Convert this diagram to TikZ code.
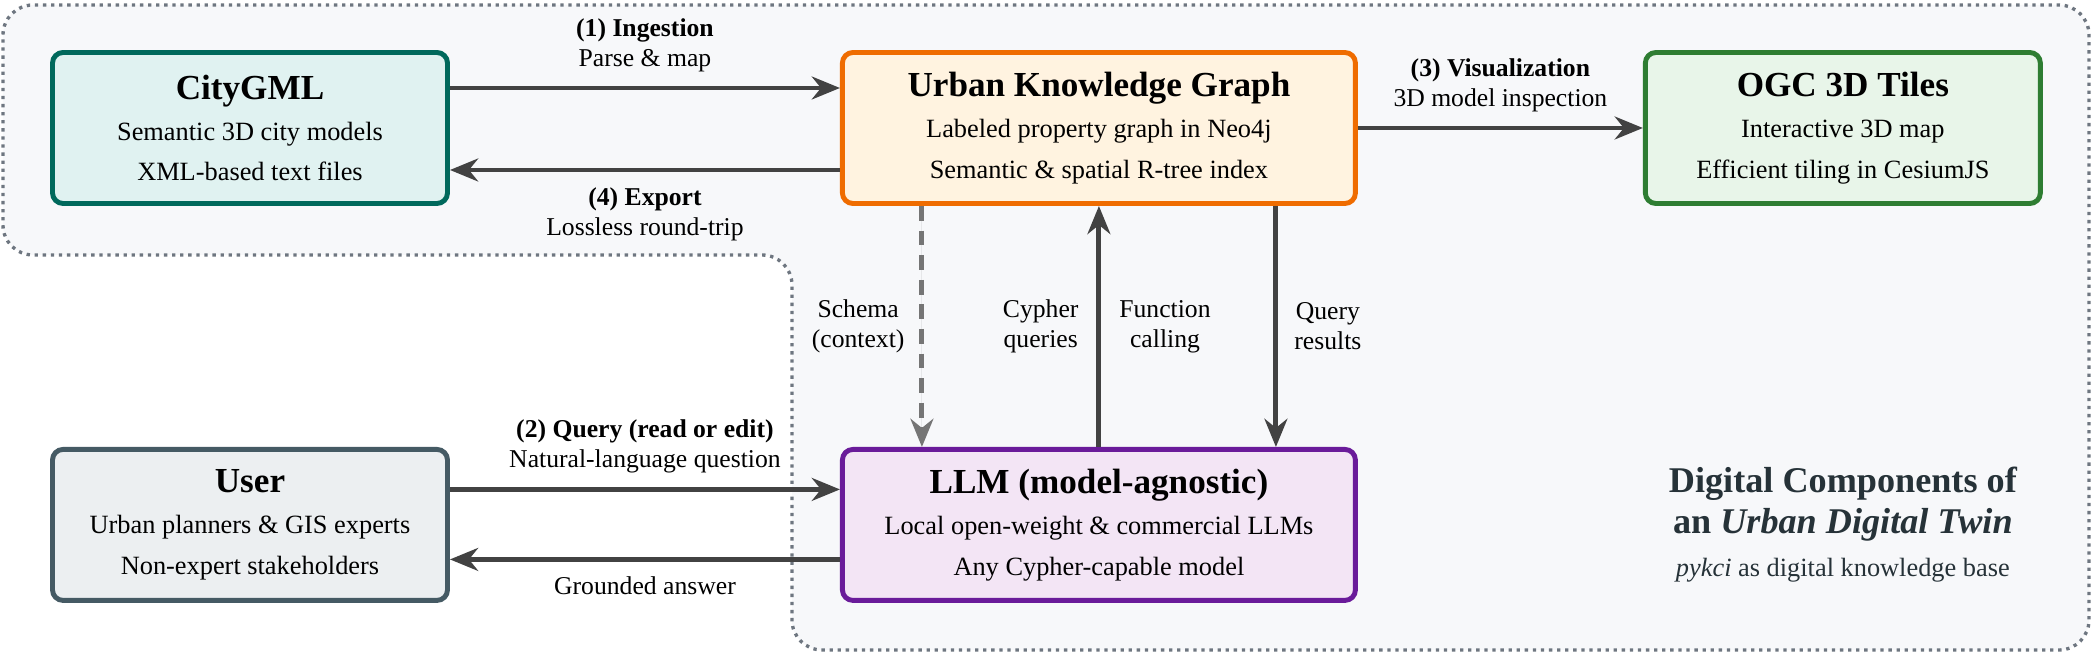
\documentclass[tikz,border=0pt]{standalone}
\usepackage{fontspec}
\setmainfont{Liberation Serif}
\usepackage{xcolor}
\usepackage{tikz}
\usetikzlibrary{arrows.meta, positioning, calc}

\definecolor{citystroke}{RGB}{0,105,92}
\definecolor{cityfill}{RGB}{224,242,241}
\definecolor{kgstroke}{RGB}{239,108,0}
\definecolor{kgfill}{RGB}{255,243,224}
\definecolor{tilestroke}{RGB}{46,125,50}
\definecolor{tilefill}{RGB}{232,245,233}
\definecolor{userstroke}{RGB}{69,90,100}
\definecolor{userfill}{RGB}{236,239,241}
\definecolor{llmstroke}{RGB}{106,27,154}
\definecolor{llmfill}{RGB}{243,229,245}
\definecolor{arrowgray}{RGB}{66,66,66}
\definecolor{dashgray}{RGB}{117,117,117}
\definecolor{zonegray}{RGB}{110,118,128}
\definecolor{zonefill}{RGB}{247,248,250}
\definecolor{titleslate}{RGB}{38,50,56}

\newcommand{\cardfont}{\fontsize{7.5}{11.6}\selectfont}
\newcommand{\cardtitle}[1]{{\fontsize{10}{11.6}\selectfont\bfseries #1}}
\newcommand{\lblfont}{\fontsize{7.3}{8.5}\selectfont}

\tikzset{
  card/.style={rectangle, draw, rounded corners=3pt, line width=1.4pt,
               align=center, minimum height=1.51cm, font=\cardfont},
  narrowcard/.style={card, minimum width=3.95cm},
  widecard/.style={card, minimum width=5.13cm},
  heading/.style={align=center, inner sep=0pt, text=titleslate,
                  font=\fontsize{10.3}{11.4}\selectfont\bfseries},
  lbl/.style={font=\lblfont, align=center, inner sep=0pt},
  zone/.style={draw=zonegray, fill=zonefill, line width=0.95pt,
               dash pattern=on 0.95pt off 1.35pt, rounded corners=0.3cm},
  arrow/.style={-{Stealth[length=8pt, width=6.5pt]}, line width=1.4pt, draw=arrowgray, fill=arrowgray},
  dasharrow/.style={arrow, draw=dashgray, fill=dashgray, dash pattern=on 4.2pt off 2.8pt}
}

\begin{document}
\begin{tikzpicture}[node distance=2.41cm and 3.9cm]
  \useasboundingbox (0,0) rectangle (20.92,-6.53);
  % dotted zone of the digital twin
  \draw[zone] (10,-0.05) -- (20.89,-0.05) -- (20.89,-6.50) -- (7.92,-6.50)
    -- (7.92,-2.55) -- (0.03,-2.55) -- (0.03,-0.05) -- cycle;

  \node[narrowcard, draw=citystroke, fill=cityfill] (city) at (2.5,-1.28)
    {\cardtitle{CityGML}\\Semantic 3D city models\\XML-based text files};
  \node[widecard, draw=kgstroke, fill=kgfill, right=3.9cm of city] (ukg)
    {\cardtitle{Urban Knowledge Graph}\\Labeled property graph in Neo4j\\Semantic \& spatial R-tree index};
  \node[narrowcard, draw=tilestroke, fill=tilefill, right=2.85cm of ukg] (tiles)
    {\cardtitle{OGC 3D Tiles}\\Interactive 3D map\\Efficient tiling in CesiumJS};
  \node[narrowcard, draw=userstroke, fill=userfill, below=2.41cm of city] (user)
    {\cardtitle{User}\\Urban planners \& GIS experts\\Non-expert stakeholders};
  \node[widecard, draw=llmstroke, fill=llmfill, right=3.9cm of user] (llm)
    {\cardtitle{LLM (model-agnostic)}\\Local open-weight \& commercial LLMs\\Any Cypher-capable model};
  \node[heading] (title) at (tiles |- llm)
    {Digital Components of\\an \textit{Urban Digital Twin}\\[1pt]{\mdseries\fontsize{7.5}{11.4}\selectfont\textit{pykci} as digital knowledge base}};

  \draw[arrow] ([yshift=0.4cm]city.east) -- node[lbl, above=0.14cm]{\textbf{(1) Ingestion}\\Parse \& map} ([yshift=0.4cm]ukg.west);
  \draw[arrow] ([yshift=-0.42cm]ukg.west) -- node[lbl, below=0.15cm]{\textbf{(4) Export}\\Lossless round-trip} ([yshift=-0.42cm]city.east);
  \draw[arrow] (ukg) -- node[lbl, above=0.14cm]{\textbf{(3) Visualization}\\3D model inspection} (tiles);
  \draw[arrow] ([yshift=0.355cm]user.east) -- node[lbl, above=0.14cm]{\textbf{(2) Query (read or edit)}\\Natural-language question} ([yshift=0.355cm]llm.west);
  \draw[arrow] ([yshift=-0.345cm]llm.west) -- node[lbl, below=0.15cm]{Grounded answer} ([yshift=-0.345cm]user.east);

  \draw[dasharrow] ([xshift=-1.77cm]ukg.south) -- node[lbl, left=0.15cm]{Schema\\(context)} ([xshift=-1.77cm]llm.north);
  \draw[arrow] (llm) -- node[lbl, left=0.18cm]{Cypher\\queries} node[lbl, right=0.18cm]{Function\\calling} (ukg);
  \draw[arrow] ([xshift=1.77cm]ukg.south) -- node[lbl, right=0.16cm]{Query\\results} ([xshift=1.77cm]llm.north);
\end{tikzpicture}
\end{document}
